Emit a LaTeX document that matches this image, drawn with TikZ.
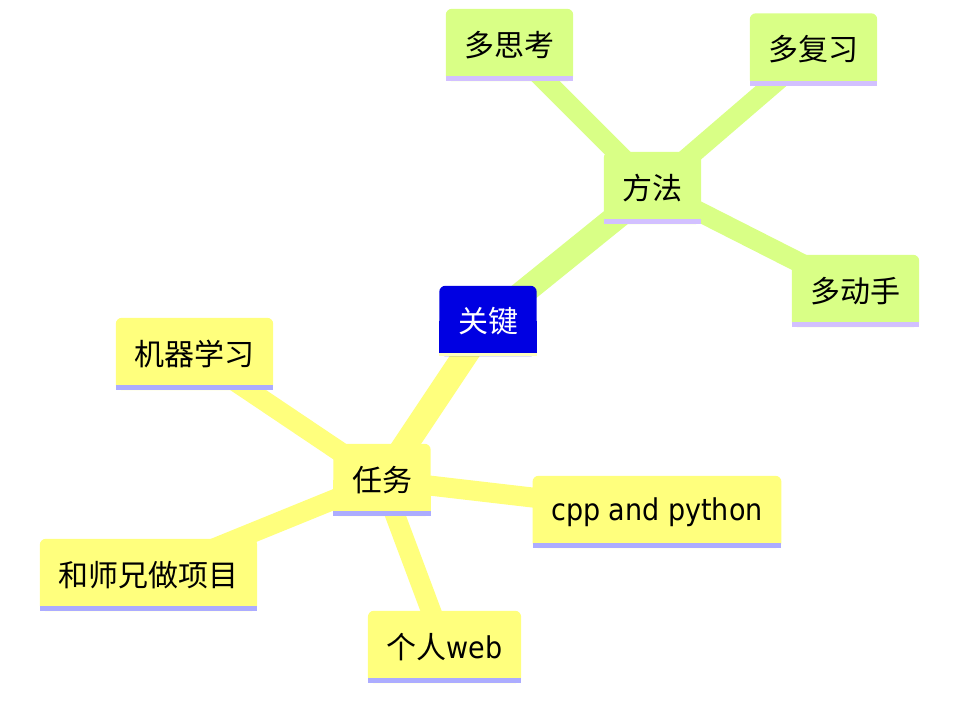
\documentclass[tikz,border=0pt]{standalone}
\usepackage{fontspec}
\setmainfont{DejaVu Sans Condensed}
\newfontfamily\cjk{Noto Sans CJK SC}
\newfontfamily\latin{DejaVu Sans Condensed}
\usetikzlibrary{backgrounds}

\definecolor{rootblue}{RGB}{0,0,226}
\definecolor{rootbar}{RGB}{255,255,190}
\definecolor{greenfill}{RGB}{217,255,134}
\definecolor{greenbar}{RGB}{210,192,255}
\definecolor{yellowfill}{RGB}{255,255,125}
\definecolor{yellowbar}{RGB}{172,172,255}

\tikzset{topic/.style={inner xsep=18.5pt,inner ysep=0pt,minimum height=72pt,
		font=\fontsize{30}{35}\selectfont\cjk}}
\tikzstyle{rootnode}=[topic,minimum height=70pt,text=white]

\begin{document}
\begin{tikzpicture}[x=1pt,y=-1pt]
	\useasboundingbox (0,0) rectangle (954,712);
	\node (key)[rootnode] at (488,321) {关键};
	\node (method)[topic] at (652.5,188) {方法};
	\node (think)[topic] at (509.5,45) {多思考};
	\node (review)[topic] at (813.5,49.5) {多复习};
	\node (practice)[topic] at (855.5,291) {多动手};
	\node (task)[topic] at (382,480) {任务};
	\node (ml)[topic] at (194.5,354) {机器学习};
	\node (cpp)[topic] at (657,512) {\latin cpp and python};
	\node (project)[topic] at (148.5,575) {和师兄做项目};
	\node (web)[topic] at (444.5,647) {个人\latin web};
	\begin{scope}[on background layer]
		% thick branches, centre to centre
		\foreach \a/\b/\col/\w in {key/method/greenfill/25, key/task/yellowfill/25,
				method/think/greenfill/20, method/review/greenfill/20, method/practice/greenfill/20,
				task/ml/yellowfill/20, task/cpp/yellowfill/20, task/project/yellowfill/20, task/web/yellowfill/20}{
			\draw[line width=\w pt,\col] (\a.center) -- (\b.center);
		}
		% boxes: round top, square bottom, bar underneath
		\foreach \nd/\body/\bar/\h in {key/rootblue/rootbar/3,
				method/greenfill/greenbar/5, think/greenfill/greenbar/5, review/greenfill/greenbar/5, practice/greenfill/greenbar/5,
				task/yellowfill/yellowbar/5, ml/yellowfill/yellowbar/5, cpp/yellowfill/yellowbar/5, project/yellowfill/yellowbar/5, web/yellowfill/yellowbar/5}{
			\fill[\body,rounded corners=6pt] (\nd.south west) rectangle (\nd.north east);
			\fill[\body] (\nd.west) rectangle (\nd.south east);
			\fill[\bar] (\nd.south west) rectangle ([yshift=\h pt]\nd.south east);
		}
	\end{scope}
\end{tikzpicture}
\end{document}
